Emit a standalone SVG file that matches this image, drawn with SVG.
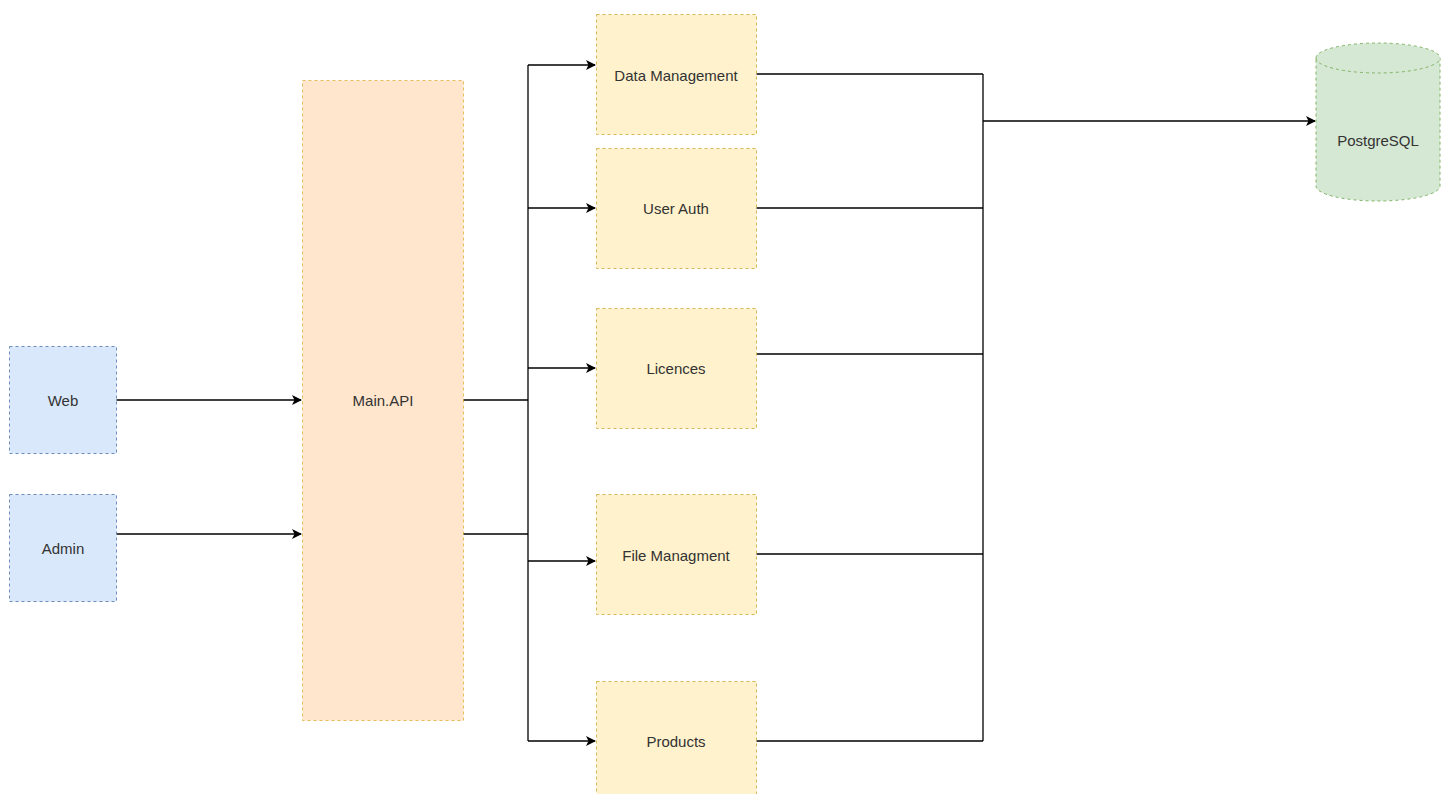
<svg xmlns="http://www.w3.org/2000/svg" width="1443" height="794" viewBox="0 0 1443 794">
<defs>
<style>
.t{font-family:"Liberation Sans",Arial,sans-serif;font-size:15px;fill:#333;text-anchor:middle;dominant-baseline:central}
.blue{fill:#dae8fc;stroke:#6c8ebf;stroke-dasharray:3 3}
.orange{fill:#ffe6cc;stroke:#d79b00;stroke-dasharray:3 3;stroke-opacity:.6}
.yellow{fill:#fff2cc;stroke:#d6b656;stroke-dasharray:3 3}
.green{fill:#d5e8d4;stroke:#82b366;stroke-dasharray:3 3}
.c{fill:none;stroke:#000;stroke-width:1.3}
</style>
<marker id="arr" viewBox="0 0 10 10" refX="9" refY="5" markerWidth="10" markerHeight="10" markerUnits="userSpaceOnUse" orient="auto">
<path d="M0,0 L10,5 L0,10 L2.5,5 Z" fill="#000"/>
</marker>
</defs>
<rect width="1443" height="794" fill="#fff"/>
<g id="connectors">
<path class="c" d="M116,400 H301" marker-end="url(#arr)"/>
<path class="c" d="M116,534 H301" marker-end="url(#arr)"/>
<path class="c" d="M463,400 H528"/>
<path class="c" d="M463,534 H528"/>
<path class="c" d="M528,65 V741"/>
<path class="c" d="M528,65 H595" marker-end="url(#arr)"/>
<path class="c" d="M528,208 H595" marker-end="url(#arr)"/>
<path class="c" d="M528,368 H595" marker-end="url(#arr)"/>
<path class="c" d="M528,561 H595" marker-end="url(#arr)"/>
<path class="c" d="M528,741 H595" marker-end="url(#arr)"/>
<path class="c" d="M756,74 H983"/>
<path class="c" d="M756,208 H983"/>
<path class="c" d="M756,354 H983"/>
<path class="c" d="M756,554 H983"/>
<path class="c" d="M756,741 H983"/>
<path class="c" d="M983,74 V741"/>
<path class="c" d="M983,121 H1315" marker-end="url(#arr)"/>
</g>
<g id="web"><rect class="blue" x="9.5" y="346.5" width="107" height="107"/><text class="t" x="63" y="400">Web</text></g>
<g id="admin"><rect class="blue" x="9.5" y="494.5" width="107" height="107"/><text class="t" x="63" y="548">Admin</text></g>
<g id="mainapi"><rect class="orange" x="302.5" y="80.5" width="161" height="640"/><text class="t" x="383" y="400">Main.API</text></g>
<g id="datamgmt"><rect class="yellow" x="596.5" y="14.5" width="160" height="120"/><text class="t" x="676" y="75">Data Management</text></g>
<g id="userauth"><rect class="yellow" x="596.5" y="148.5" width="160" height="120"/><text class="t" x="676" y="208">User Auth</text></g>
<g id="licences"><rect class="yellow" x="596.5" y="308.5" width="160" height="120"/><text class="t" x="676" y="368">Licences</text></g>
<g id="filemgmt"><rect class="yellow" x="596.5" y="494.5" width="160" height="120"/><text class="t" x="676" y="555">File Managment</text></g>
<g id="products"><rect class="yellow" x="596.5" y="681.5" width="160" height="120"/><text class="t" x="676" y="741">Products</text></g>
<g id="postgres">
<path class="green" d="M1316,58 A62,15 0 0 1 1440,58 V186 A62,15 0 0 1 1316,186 Z"/>
<path class="green" d="M1316,58 A62,15 0 0 0 1440,58" fill="none"/>
<text class="t" x="1378" y="140">PostgreSQL</text>
</g>
</svg>
